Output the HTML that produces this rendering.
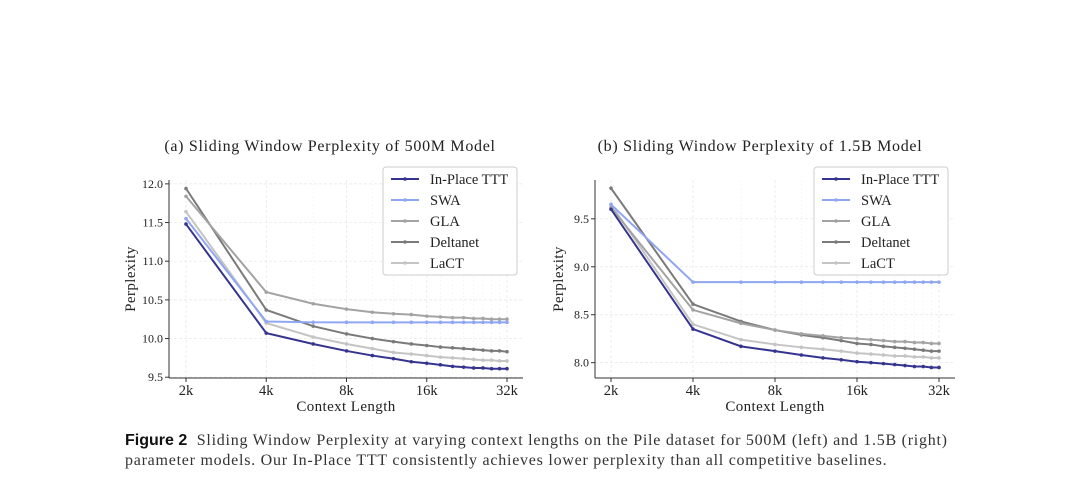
<!DOCTYPE html>
<html><head><meta charset="utf-8">
<style>
html,body{margin:0;padding:0;background:#fff;width:1080px;height:489px;overflow:hidden}
svg{position:absolute;left:0;top:0}
.cap{position:absolute;left:125px;top:431px;font-family:"Liberation Serif",serif;font-size:16px;letter-spacing:0.75px;line-height:20px;color:#333;width:950px;white-space:nowrap}
.cap b{font-family:"Liberation Sans",sans-serif;font-weight:bold;color:#111;letter-spacing:0}
</style></head><body>
<svg id="fig" width="1080" height="489"></svg>
<div class="cap"><b>Figure 2</b>&nbsp; Sliding Window Perplexity at varying context lengths on the Pile dataset for 500M (left) and 1.5B (right)<br>parameter models. Our In-Place TTT consistently achieves lower perplexity than all competitive baselines.</div>
<script>
const contextK = [2,4,6,8,10,12,14,16,18,20,22,24,26,28,30,32];
const seriesNames = ["In-Place TTT","SWA","GLA","Deltanet","LaCT"];
const xTicks = [2,4,8,16,32];
const xTickLabels = ["2k","4k","8k","16k","32k"];
const leftYTicks = [9.5,10.0,10.5,11.0,11.5,12.0];
const rightYTicks = [8.0,8.5,9.0,9.5];
const leftInPlace = [11.48,10.07,9.93,9.84,9.78,9.74,9.70,9.68,9.66,9.64,9.63,9.62,9.62,9.61,9.61,9.61];
const leftSWA = [11.55,10.22,10.21,10.21,10.21,10.21,10.21,10.21,10.21,10.21,10.21,10.21,10.21,10.21,10.21,10.21];
const leftGLA = [11.84,10.60,10.45,10.38,10.34,10.32,10.31,10.29,10.28,10.27,10.27,10.26,10.26,10.25,10.25,10.25];
const leftDelta = [11.94,10.37,10.16,10.06,10.00,9.96,9.93,9.91,9.89,9.88,9.87,9.86,9.85,9.84,9.84,9.83];
const leftLaCT = [11.64,10.20,10.02,9.93,9.87,9.82,9.80,9.78,9.76,9.75,9.74,9.73,9.72,9.72,9.71,9.71];
const rightInPlace = [9.60,8.35,8.17,8.12,8.08,8.05,8.03,8.01,8.00,7.99,7.98,7.97,7.96,7.96,7.95,7.95];
const rightSWA = [9.65,8.84,8.84,8.84,8.84,8.84,8.84,8.84,8.84,8.84,8.84,8.84,8.84,8.84,8.84,8.84];
const rightGLA = [9.62,8.55,8.41,8.34,8.30,8.28,8.26,8.25,8.24,8.23,8.22,8.22,8.21,8.21,8.20,8.20];
const rightDelta = [9.82,8.61,8.43,8.34,8.29,8.26,8.23,8.20,8.19,8.17,8.16,8.15,8.14,8.13,8.12,8.12];
const rightLaCT = [9.65,8.40,8.24,8.19,8.16,8.14,8.12,8.10,8.09,8.08,8.07,8.07,8.06,8.06,8.05,8.05];

const colors = ["#35358f","#8fa6f2","#a3a3a3","#7a7a7a","#c4c4c4"];
const NS="http://www.w3.org/2000/svg";
const svg=document.getElementById('fig');
function el(tag,attrs,parent){const e=document.createElementNS(NS,tag);for(const k in attrs)e.setAttribute(k,attrs[k]);(parent||svg).appendChild(e);return e;}
const serif='"Liberation Serif",serif';

function panel(cfg){
  const g=el('g',{});
  
  
  const {L,R,T,B,x2,x32,ymin,ymax}=cfg;
  const xs=v=>x2+(Math.log2(v)-1)/4*(x32-x2);
  const ys=v=>B-(v-ymin)/(ymax-ymin)*(B-T);
  contextK.forEach(k=>{if(!xTicks.includes(k)){el('line',{x1:xs(k),x2:xs(k),y1:T,y2:B,stroke:'#f0f0f0','stroke-width':0.6,'stroke-dasharray':'2,2'},g);}});
  xTicks.forEach(k=>el('line',{x1:xs(k),x2:xs(k),y1:T,y2:B,stroke:'#e6e6e6','stroke-width':0.7,'stroke-dasharray':'3,2'},g));
  cfg.yTicks.forEach(v=>el('line',{x1:L,x2:R,y1:ys(v),y2:ys(v),stroke:'#e6e6e6','stroke-width':0.7,'stroke-dasharray':'3,2'},g));
  const ax=el('line',{x1:L,x2:L,y1:T,y2:B,stroke:'#333','stroke-width':1},g);
  
  
  const bx=el('line',{x1:L,x2:R,y1:B,y2:B,stroke:'#333','stroke-width':1},g);
  
  
  xTicks.forEach((k,i)=>{
    el('line',{x1:xs(k),x2:xs(k),y1:B,y2:B+4,stroke:'#333'},g);
    const t=el('text',{x:xs(k),y:B+17,'text-anchor':'middle','font-family':serif,'font-size':14.5,fill:'#222'},g);
    t.textContent=xTickLabels[i];
    
    
  });
  cfg.yTicks.forEach(v=>{
    el('line',{x1:L-4,x2:L,y1:ys(v),y2:ys(v),stroke:'#333'},g);
    const t=el('text',{x:L-6,y:ys(v)+4,'text-anchor':'end','font-family':serif,'font-size':12,fill:'#222'},g);
    t.textContent=v.toFixed(1);
    
    
  });
  const xt=el('text',{x:(L+R)/2,y:B+33,'text-anchor':'middle','font-family':serif,'font-size':15,'letter-spacing':0.4,fill:'#222'},g);
  xt.textContent='Context Length';
  
  
  const yt=el('text',{x:0,y:0,'text-anchor':'middle','font-family':serif,'font-size':15,'letter-spacing':0.4,fill:'#222',transform:`translate(${cfg.ytx},${(T+B)/2}) rotate(-90)`},g);
  yt.textContent='Perplexity';
  
  
  const tt=el('text',{x:cfg.tx,y:151,'text-anchor':'middle','font-family':serif,'font-size':16,'letter-spacing':0.7,fill:'#222'},g);
  tt.textContent=cfg.title;
  
  
  [4,3,2,1,0].forEach(si=>{
    const data=cfg.series[si];
    const pts=data.map((v,i)=>xs(contextK[i])+','+ys(v)).join(' ');
    const pl=el('polyline',{points:pts,fill:'none',stroke:colors[si],'stroke-width':2},g);
    
    
    data.forEach((v,i)=>{
      const c=el('circle',{cx:xs(contextK[i]),cy:ys(v),r:1.8,fill:colors[si]},g);
      
      
    });
  });
  const lg=el('g',{},g);
  
  
  el('rect',{x:cfg.lx,y:167,width:134,height:108,fill:'#fff','fill-opacity':0.9,stroke:'#ccc',rx:3},lg);
  seriesNames.forEach((n,i)=>{
    const y=179+i*21;
    el('line',{x1:cfg.lx+8,x2:cfg.lx+36,y1:y,y2:y,stroke:colors[i],'stroke-width':2},lg);
    el('circle',{cx:cfg.lx+22,cy:y,r:1.8,fill:colors[i]},lg);
    const t=el('text',{x:cfg.lx+47,y:y+5,'font-family':serif,'font-size':14.5,fill:'#222'},lg);
    t.textContent=n;
    
    
  });
}
panel({name:'chart-500m',L:169,R:523,T:180,B:378,x2:186,x32:507,ymin:9.49,ymax:12.05,yTicks:leftYTicks,ytx:135,tx:330,title:'(a) Sliding Window Perplexity of 500M Model',lx:383,
  series:[leftInPlace,leftSWA,leftGLA,leftDelta,leftLaCT]});
panel({name:'chart-1-5b',L:595,R:955,T:180,B:378,x2:611,x32:939,ymin:7.84,ymax:9.905,yTicks:rightYTicks,ytx:563,tx:760,title:'(b) Sliding Window Perplexity of 1.5B Model',lx:814,
  series:[rightInPlace,rightSWA,rightGLA,rightDelta,rightLaCT]});
</script>
</body></html>
